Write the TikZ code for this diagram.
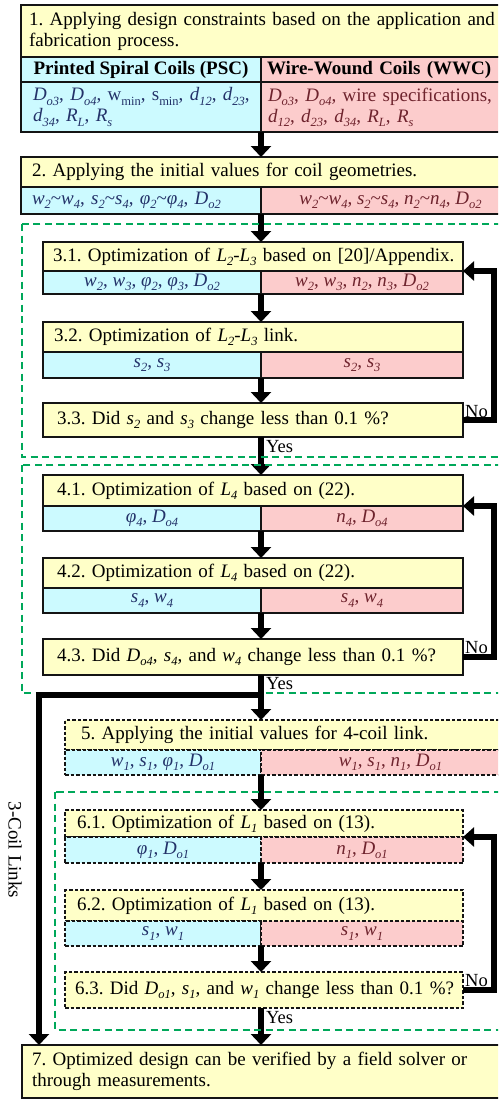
\documentclass[tikz,border=0pt]{standalone}
\usepackage{fontspec}
\setmainfont{Liberation Serif}
\usetikzlibrary{arrows.meta}
\definecolor{hy}{RGB}{255,255,200}
\definecolor{cb}{RGB}{204,250,255}
\definecolor{cp}{RGB}{252,204,204}
\definecolor{gd}{RGB}{0,168,90}
\definecolor{tb}{RGB}{35,50,105}
\definecolor{tp}{RGB}{110,35,45}
\definecolor{bd}{RGB}{20,20,20}
\newcommand\myv[2]{\textit{#1}\raisebox{-0.22em}{\fontsize{12.5}{12.5}\selectfont\textit{#2}}}
\newcommand\mysb[1]{\raisebox{-0.22em}{\fontsize{12.5}{12.5}\selectfont #1}}
\begin{document}
\frenchspacing
\hyphenpenalty=10000
\exhyphenpenalty=10000
\begin{tikzpicture}[x=1pt,y=-1pt,
  font=\fontsize{19}{21}\selectfont,
  box/.style={draw=bd, line width=1.8pt, anchor=north west, inner ysep=0pt, outer sep=0pt},
  hdr/.style={box, fill=hy, text=black, align=left},
  cbl/.style={box, fill=cb, text=tb},
  cpk/.style={box, fill=cp, text=tp},
  dsh/.style={dash pattern=on 3.5pt off 2pt},
  grp/.style={draw=gd, line width=2.6pt, dash pattern=on 7pt off 4.5pt},
  flow/.style={draw=black, line width=5.5pt, -{Triangle[length=11pt,width=20pt]}},
  back/.style={draw=black, line width=5.5pt, -{Triangle[length=11pt,width=19pt]}},
  lab/.style={font=\fontsize{18.5}{20}\selectfont, inner sep=0pt}]
\useasboundingbox (0,0) rectangle (498,1100);
\clip (0,0) rectangle (498,1100);
\fill[white] (0,0) rectangle (498,1100);

% ---- box 1
\node[hdr, minimum width=499, minimum height=52, inner xsep=8, text width=483] (h1) at (21,5)
  {\mbox{1. Applying design constraints based on the application and}\\ fabrication process.};
\node[cbl, minimum width=240, minimum height=25, text=black] (t1a) at (21,57) {\textbf{Printed Spiral Coils (PSC)}};
\node[cpk, minimum width=259, minimum height=25, inner xsep=6, text width=247, align=left, text=black] (t1b) at (261,57) {\textbf{Wire-Wound Coils (WWC)}};
\node[cbl, minimum width=240, minimum height=50, inner xsep=12, text width=216, align=left] (c1a) at (21,82)
  {\mbox{\myv{D}{o3}, \myv{D}{o4}, w\mysb{min}, s\mysb{min}, \myv{d}{12}, \myv{d}{23},}\\ \myv{d}{34}, \myv{R}{L}, \myv{R}{s}};
\node[cpk, minimum width=259, minimum height=50, inner xsep=7, text width=245, align=left] (c1b) at (261,82)
  {\mbox{\myv{D}{o3}, \myv{D}{o4}, wire specifications,}\\ \myv{d}{12}, \myv{d}{23}, \myv{d}{34}, \myv{R}{L}, \myv{R}{s}};

% ---- box 2
\node[hdr, minimum width=499, minimum height=30, inner xsep=11, text width=477] (h2) at (21,157)
  {2. Applying the initial values for coil geometries.};
\node[cbl, minimum width=240, minimum height=27, inner xsep=11, text width=218, align=left] (c2a) at (21,187)
  {\mbox{\myv{w}{2}\textasciitilde\myv{w}{4}, \myv{s}{2}\textasciitilde\myv{s}{4}, \myv{φ}{2}\textasciitilde\myv{φ}{4}, \myv{D}{o2}}};
\node[cpk, minimum width=259, minimum height=27] (c2b) at (261,187)
  {\myv{w}{2}\textasciitilde\myv{w}{4}, \myv{s}{2}\textasciitilde\myv{s}{4}, \myv{n}{2}\textasciitilde\myv{n}{4}, \myv{D}{o2}};

% ---- group 3
\node[hdr, minimum width=420, minimum height=29, inner xsep=10, text width=400] (h31) at (43,242)
  {\mbox{3.1. Optimization of \myv{L}{2}-\myv{L}{3} based on [20]/Appendix.}};
\node[cbl, minimum width=218, minimum height=23] (c31a) at (43,271) {\myv{w}{2}, \myv{w}{3}, \myv{φ}{2}, \myv{φ}{3}, \myv{D}{o2}};
\node[cpk, minimum width=202, minimum height=23] (c31b) at (261,271) {\myv{w}{2}, \myv{w}{3}, \myv{n}{2}, \myv{n}{3}, \myv{D}{o2}};
\node[hdr, minimum width=420, minimum height=30, inner xsep=11, text width=398] (h32) at (43,322)
  {3.2. Optimization of \myv{L}{2}-\myv{L}{3} link.};
\node[cbl, minimum width=218, minimum height=26] (c32a) at (43,352) {\myv{s}{2}, \myv{s}{3}};
\node[cpk, minimum width=202, minimum height=26] (c32b) at (261,352) {\myv{s}{2}, \myv{s}{3}};
\node[hdr, minimum width=420, minimum height=34, inner xsep=14, text width=392] (d33) at (43,403)
  {3.3. Did \myv{s}{2} and \myv{s}{3} change less than 0.1 \%?};

% ---- group 4
\node[hdr, minimum width=420, minimum height=31, inner xsep=14, text width=392] (h41) at (43,475)
  {4.1. Optimization of \myv{L}{4} based on (22).};
\node[cbl, minimum width=218, minimum height=25] (c41a) at (43,506) {\myv{φ}{4}, \myv{D}{o4}};
\node[cpk, minimum width=202, minimum height=25] (c41b) at (261,506) {\myv{n}{4}, \myv{D}{o4}};
\node[hdr, minimum width=420, minimum height=30, inner xsep=14, text width=392] (h42) at (43,558)
  {4.2. Optimization of \myv{L}{4} based on (22).};
\node[cbl, minimum width=218, minimum height=25] (c42a) at (43,588) {\myv{s}{4}, \myv{w}{4}};
\node[cpk, minimum width=202, minimum height=25] (c42b) at (261,588) {\myv{s}{4}, \myv{w}{4}};
\node[hdr, minimum width=420, minimum height=36, inner xsep=14, text width=392] (d43) at (43,639)
  {\mbox{4.3. Did \myv{D}{o4}, \myv{s}{4}, and \myv{w}{4} change less than 0.1 \%?}};

% ---- box 5
\node[hdr, dsh, minimum width=455, minimum height=30, inner xsep=16, text width=423] (h5) at (65,720)
  {5. Applying the initial values for 4-coil link.};
\node[cbl, dsh, minimum width=196, minimum height=25] (c5a) at (65,750) {\myv{w}{1}, \myv{s}{1}, \myv{φ}{1}, \myv{D}{o1}};
\node[cpk, dsh, minimum width=259, minimum height=25] (c5b) at (261,750) {\myv{w}{1}, \myv{s}{1}, \myv{n}{1}, \myv{D}{o1}};

% ---- group 6
\node[hdr, dsh, minimum width=398, minimum height=27, inner xsep=12, text width=374] (h61) at (65,810)
  {6.1. Optimization of \myv{L}{1} based on (13).};
\node[cbl, dsh, minimum width=196, minimum height=26] (c61a) at (65,837) {\myv{φ}{1}, \myv{D}{o1}};
\node[cpk, dsh, minimum width=202, minimum height=26] (c61b) at (261,837) {\myv{n}{1}, \myv{D}{o1}};
\node[hdr, dsh, minimum width=398, minimum height=31, inner xsep=12, text width=374] (h62) at (65,890)
  {6.2. Optimization of \myv{L}{1} based on (13).};
\node[cbl, dsh, minimum width=196, minimum height=25] (c62a) at (65,921) {\myv{s}{1}, \myv{w}{1}};
\node[cpk, dsh, minimum width=202, minimum height=25] (c62b) at (261,921) {\myv{s}{1}, \myv{w}{1}};
\node[hdr, dsh, minimum width=398, minimum height=36, inner xsep=10, text width=378] (d63) at (65,972)
  {\mbox{6.3. Did \myv{D}{o1}, \myv{s}{1}, and \myv{w}{1} change less than 0.1 \%?}};

% ---- box 7
\node[hdr, minimum width=498, minimum height=53, inner xsep=10, text width=478] (h7) at (22,1045)
  {\mbox{7. Optimized design can be verified by a field solver or}\\ through measurements.};

% ---- flow arrows
\draw[flow] (c1a.south east) -- (c1a.south east |- h2.north);
\draw[flow] (c2a.south east) -- (c2a.south east |- h31.north);
\draw[flow] (c31a.south east) -- (c31a.south east |- h32.north);
\draw[flow] (c32a.south east) -- (c32a.south east |- d33.north);
\draw[flow] (c32a.south east |- d33.south) -- (c32a.south east |- h41.north);
\draw[flow] (c41a.south east) -- (c41a.south east |- h42.north);
\draw[flow] (c42a.south east) -- (c42a.south east |- d43.north);
\draw[flow] (c42a.south east |- d43.south) -- (c5a.north east |- h5.north);
\draw[flow] (c5a.south east) -- (c5a.south east |- h61.north);
\draw[flow] (c61a.south east) -- (c61a.south east |- h62.north);
\draw[flow] (c62a.south east) -- (c62a.south east |- d63.north);
\draw[flow] (c62a.south east |- d63.south) -- (c62a.south east |- h7.north);

% ---- feedback loops
\draw[back] (d33.east) -- ++(31,0) |- (h31.south east);
\draw[back] (d43.east) -- ++(31,0) |- (h41.south east);
\draw[back] (d63.east) -- ++(31,0) |- (h61.south east);

\node[lab, anchor=south west] (no1) at (465,418) {No};
\node[lab, anchor=south west] (no2) at (465,654) {No};
\node[lab, anchor=south west] (no3) at (465,987) {No};
\node[lab, anchor=north west] (yes1) at (266,440) {Yes};
\node[lab, anchor=north west] (yes2) at (266,677) {Yes};
\node[lab, anchor=north west] (yes3) at (266,1011) {Yes};

% ---- green groups
\draw[grp] (22,224) rectangle (540,457);
\draw[grp] (22,465) rectangle (540,693);
\draw[grp] (55,792) rectangle (540,1030);

% ---- 3-coil links bypass
\coordinate (br) at (263,695);
\coordinate (cl) at (39,695);
\draw[flow] (br) -- (cl) -- (cl |- h7.north);
\node[rotate=-90, inner sep=0pt] (coil3) at (15,850) {3-Coil Links};
\end{tikzpicture}
\end{document}
